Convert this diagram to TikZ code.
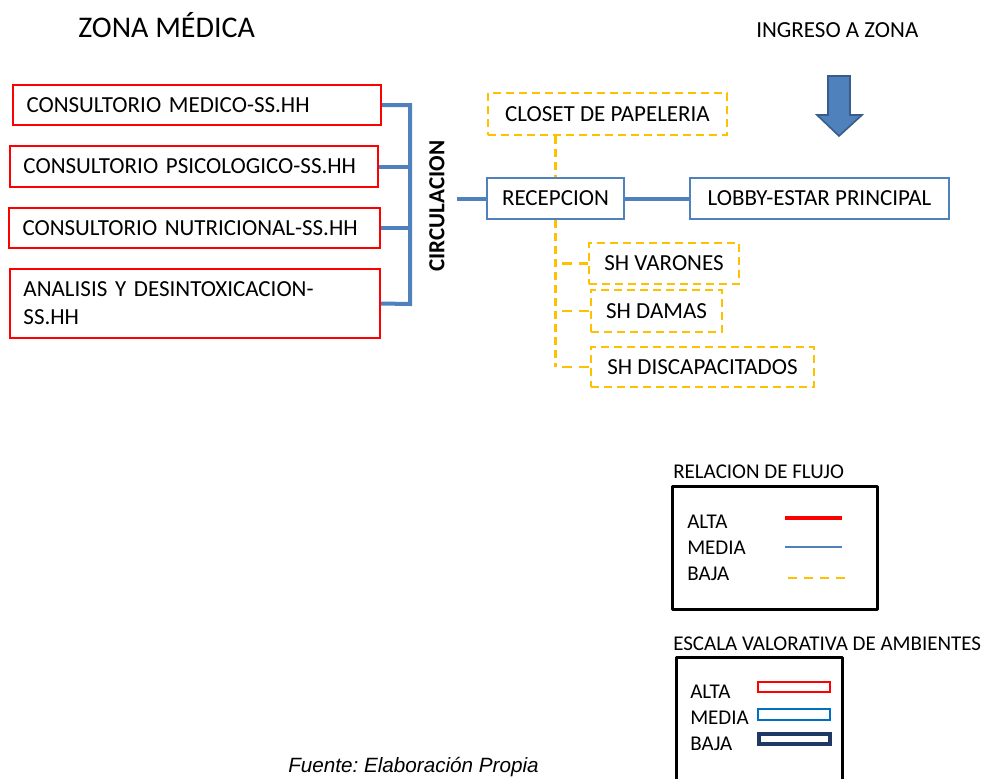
\documentclass[tikz,border=0pt]{standalone}
\usepackage{fontspec}
\setmainfont{Carlito}
\newfontfamily\arialfont{Liberation Sans}
\definecolor{boxred}{HTML}{FF0000}
\definecolor{steel}{HTML}{4F81BD}
\definecolor{steeldark}{HTML}{385D8A}
\definecolor{amber}{HTML}{FFC000}
\definecolor{midblue}{HTML}{0070C0}
\definecolor{navy}{HTML}{1F3864}
\newcommand\fsbox{\fontsize{17.25pt}{21pt}\selectfont}
\newcommand\fslegend{\fontsize{15.75pt}{19pt}\selectfont}
\newcommand\fstitle{\fontsize{22.5pt}{27pt}\selectfont}
\frenchspacing
\begin{document}
\begin{tikzpicture}[x=0.75pt,y=-0.75pt,font=\fsbox,
  redbox/.style={draw=boxred,line width=1.5pt,anchor=west,align=left,
    inner xsep=10.125pt,inner ysep=0pt},
  bluebox/.style={draw=steel,line width=1.5pt,minimum height=30.75pt,inner sep=0pt},
  dashbox/.style={draw=amber,line width=1.9pt,dash pattern=on 6pt off 3.75pt,inner sep=0pt},
  medline/.style={draw=steel,line width=3pt},
  lowline/.style={draw=amber,line width=1.9pt,dash pattern=on 6pt off 3.75pt},
  lowstub/.style={draw=amber,line width=1.9pt,dash pattern=on 7.5pt off 5.25pt,shorten <=5pt},
  lbl/.style={inner sep=0pt,anchor=west},
  legendframe/.style={draw=black,line width=2.25pt,line join=round}]
\useasboundingbox (0,0) rectangle (995,778);

% headings
\node[lbl,font=\fstitle] (title) at (78,25) {ZONA MÉDICA};
\node[lbl] (ingreso) at (756,30) {INGRESO A ZONA};

% entrance arrow
\filldraw[fill=steel,draw=steeldark,line width=1.2pt,line join=miter]
  (828,76) -- (850,76) -- (850,115) -- (862,115) -- (839,136) -- (817,115) -- (828,115) -- cycle;

% consulting rooms
\node[redbox,text width=255.75pt,minimum height=30pt] (b1) at (12,105) {CONSULTORIO MEDICO-SS.HH};
\node[redbox,text width=255.75pt,minimum height=30.75pt] (b2) at (9,166.5) {CONSULTORIO PSICOLOGICO-SS.HH};
\node[redbox,text width=258pt,minimum height=30pt] (b3) at (8,228) {CONSULTORIO NUTRICIONAL-SS.HH};
\node[redbox,text width=257.25pt,minimum height=51.75pt] (b4) at (9,303.5) {ANALISIS Y DESINTOXICACION-\\SS.HH};

% circulation bus
\coordinate (busbot) at (410,304);
\draw[medline] (b1.east) -| (busbot) -- (b4.east);
\draw[medline] (b2.east) -- (b2.east -| busbot);
\draw[medline] (b3.east) -- (b3.east -| busbot);
\node[rotate=90,inner sep=0pt,font=\fsbox\bfseries] (circ) at (437,206) {CIRCULACION};

% reception and lobby
\node[bluebox,minimum width=102.75pt] (rec) at (555.5,198.5) {RECEPCION};
\node[bluebox,minimum width=194.25pt] (lob) at (819.5,198.5) {LOBBY-ESTAR PRINCIPAL};
\coordinate (cj) at (457,198.5);
\draw[medline] (cj) -- (rec.west);
\draw[medline] (rec.east) -- (lob.west);

% secondary rooms
\node[dashbox,minimum width=179.25pt,minimum height=31.5pt] (clo) at (607.5,114) {CLOSET  DE PAPELERIA};
\node[dashbox,minimum width=112.5pt,minimum height=30.75pt] (var) at (664,263.5) {SH VARONES};
\node[dashbox,minimum width=98.25pt,minimum height=31.5pt] (dam) at (656.5,311) {SH DAMAS};
\node[dashbox,minimum width=167.25pt,minimum height=30pt] (dis) at (702.5,367) {SH DISCAPACITADOS};

\draw[lowline] (clo.south -| rec.north) -- (rec.north);
\draw[lowline] (rec.south) -- (rec.south |- dis.west);
\draw[lowstub] (rec.south |- var.west) -- (var.west);
\draw[lowstub] (rec.south |- dam.west) -- (dam.west);
\draw[lowstub] (rec.south |- dis.west) -- (dis.west);

% flow legend
\node[lbl,font=\fslegend] (flujo) at (673,472) {RELACION DE FLUJO};
\draw[legendframe] (672,486) rectangle (877,609);
\node[lbl,font=\fslegend] (fa) at (687,522) {ALTA};
\node[lbl,font=\fslegend] (fm) at (687,548) {MEDIA};
\node[lbl,font=\fslegend] (fb) at (687,574) {BAJA};
\draw[draw=boxred,line width=3pt] (785,518) -- (842,518);
\draw[draw=steel,line width=1.1pt] (785,547) -- (842,547);
\draw[draw=amber,line width=1.6pt,dash pattern=on 7pt off 5pt] (788,578) -- (848,578);

% room rating legend
\node[lbl,font=\fslegend] (escala) at (673,644) {ESCALA VALORATIVA DE AMBIENTES};
\draw[legendframe] (676,790) -- (676,657) -- (842,657) -- (842,790);
\node[lbl,font=\fslegend] (ea) at (690,692) {ALTA};
\node[lbl,font=\fslegend] (em) at (690,718) {MEDIA};
\node[lbl,font=\fslegend] (eb) at (690,744) {BAJA};
\draw[draw=boxred,line width=0.8pt] (758,682) rectangle (830,692);
\draw[draw=midblue,line width=1.6pt] (758,709) rectangle (830,720);
\draw[draw=navy,line width=3pt] (759,733.5) rectangle (830,744);

% source note
\node[lbl,font={\arialfont\itshape\fontsize{15.5pt}{18pt}\selectfont}] (fuente) at (288,767) {Fuente: Elaboración Propia};
\end{tikzpicture}
\end{document}
